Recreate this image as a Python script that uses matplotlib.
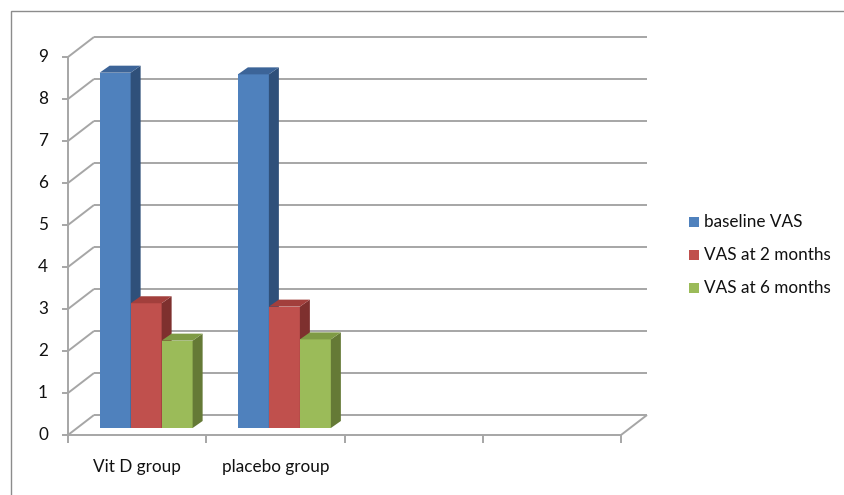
import matplotlib
matplotlib.use('Agg')
import matplotlib.pyplot as plt
from matplotlib.patches import Polygon, Rectangle

plt.rcParams['font.family'] = ['Lato', 'DejaVu Sans']

categories = ['Vit D group', 'placebo group', '', '']
series = ['baseline VAS', 'VAS at 2 months', 'VAS at 6 months']
baseline = [8.46, 8.42]
months2 = [2.97, 2.89]
months6 = [2.08, 2.11]
yticks = list(range(0, 10))

front = ['#4F81BD', '#C0504D', '#9BBB59']
side = ['#2F507A', '#7E302E', '#657A36']
top = ['#3C6498', '#A23F3C', '#7F9B45']
grid = '#A6A6A6'
txt = '#111111'

W, H = 844, 495
fig = plt.figure(figsize=(W / 100, H / 100), dpi=100)
ax = fig.add_axes([0, 0, 1, 1])

# pixel scale: px per category, px per unit; front floor corner at (68, 435) px
cx, cy = 138.25, 42.0
ax.set_xlim(-0.5 - 68 / cx, -0.5 + (W - 68) / cx)
ax.set_ylim(-(H - 435) / cy, 435 / cy)
ax.axis('off')

# wall / floor depth offset
fdx, fdy = 26 / cx, 20 / cy
x0, x1 = -0.5, len(categories) - 0.5
gkw = dict(color=grid, lw=1.4, solid_capstyle='butt', zorder=1)
fs = 12.3

for v in yticks:
    ax.plot([x0 + fdx, x1 + fdx], [v + fdy, v + fdy], **gkw)
    ax.plot([x0, x0 + fdx], [v, v + fdy], **gkw)
    ax.plot([x0 - 6 / cx, x0], [v, v], **gkw)
    ax.text(x0 - 25 / cx, v, str(v), ha='center', va='center', fontsize=fs, color=txt)
ax.plot([x0, x0], [0, yticks[-1]], **gkw)
ax.plot([x0, x1], [0, 0], **gkw)
ax.plot([x1, x1 + fdx], [0, fdy], **gkw)
for i in range(len(categories) + 1):
    ax.plot([x0 + i, x0 + i], [0, -8 / cy], **gkw)
for i, c in enumerate(categories):
    ax.text(i, -32 / cy, c, ha='center', va='center', fontsize=fs, color=txt)

# bars (front face at mid depth)
bw = 31 / cx
bdx, bdy = 9 / cx, 7 / cy      # bar front offset from floor front
sdx, sdy = 10 / cx, 7 / cy     # bar depth
data = [baseline, months2, months6]
z = 3
for g in range(len(baseline)):
    for s, vals in enumerate(data):
        left = g + bdx + (s - 1.5) * bw
        val = vals[g]
        ax.bar(left, val, width=bw, bottom=bdy, align='edge', color=front[s], zorder=z, lw=0)
        ax.add_patch(Polygon([(left + bw, bdy), (left + bw + sdx, bdy + sdy),
                              (left + bw + sdx, bdy + val + sdy), (left + bw, bdy + val)],
                             closed=True, fc=side[s], lw=0, zorder=z))
        ax.add_patch(Polygon([(left, bdy + val), (left + bw, bdy + val),
                              (left + bw + sdx, bdy + val + sdy), (left + sdx, bdy + val + sdy)],
                             closed=True, fc=top[s], lw=0, zorder=z))
        z += 1

# legend
for s, name in enumerate(series):
    yl = 1 - (222 + 33 * s) / H
    fig.patches.append(Rectangle((689 / W, yl - 5 / H), 10 / W, 10 / H, transform=fig.transFigure,
                                 fc=front[s], lw=0))
    fig.text(704 / W, yl, name, ha='left', va='center', fontsize=fs, color=txt)

# chart border
fig.patches.append(Rectangle((11 / W, -0.1), 1.2, 1 - 11 / H + 0.1, transform=fig.transFigure,
                             fill=False, ec='#8C8C8C', lw=1.0))

fig.savefig('out.png', dpi=100)
